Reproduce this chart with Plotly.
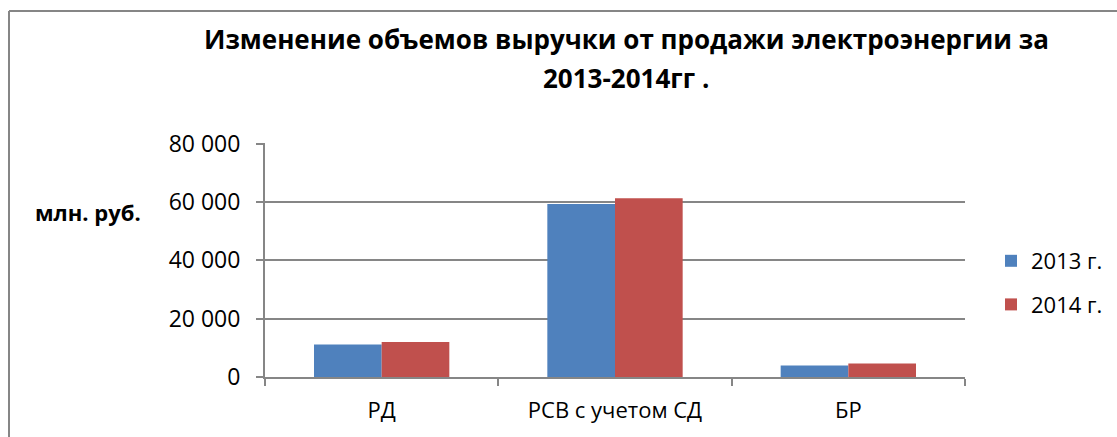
import plotly.graph_objects as go

categories = ["РД", "РСВ с учетом СД", "БР"]
series_names = ["2013 г.", "2014 г."]
values_2013 = [11100, 59300, 3900]
values_2014 = [12000, 61300, 4600]
y_ticks = [0, 20000, 40000, 60000, 80000]
y_tick_labels = ["0", "20 000", "40 000", "60 000", "80 000"]
title_lines = ["Изменение объемов выручки от продажи электроэнергии за", "2013-2014гг ."]
y_title = "млн. руб."

colors = ["#4F81BD", "#C0504D"]
FONT = "Open Sans"

fig = go.Figure()
for name, vals, col in zip(series_names, [values_2013, values_2014], colors):
    fig.add_trace(go.Bar(
        x=categories, y=vals, name=name, legendgroup=name,
        marker=dict(color=col, line=dict(width=0)),
    ))

L, R, T, B = 265, 1117 - 965, 143, 437 - 377
W, H = 1117, 437
pw, ph = W - L - R, H - T - B

def px_x(p):
    return (p - L) / pw

def px_y(p):
    return (H - B - p) / ph

annotations = []
for line, yc in zip(title_lines, [39, 78]):
    annotations.append(dict(
        text="<b>" + line + "</b>", xref="paper", yref="paper",
        x=px_x(626), y=px_y(yc), xanchor="center", yanchor="middle",
        showarrow=False, font=dict(family=FONT, size=26, color="black"),
    ))
annotations.append(dict(
    text="<b>" + y_title + "</b>", xref="paper", yref="paper",
    x=px_x(88), y=px_y(212), xanchor="center", yanchor="middle",
    showarrow=False, font=dict(family=FONT, size=22, color="black"),
))

fig.update_layout(
    width=W, height=H,
    margin=dict(l=L, r=R, t=T, b=B, pad=0, autoexpand=False),
    paper_bgcolor="white", plot_bgcolor="white",
    barmode="group", bargap=0.42, bargroupgap=0,
    font=dict(family=FONT, size=23, color="black"),
    showlegend=True,
    legend=dict(
        x=px_x(991), y=px_y(240), xanchor="left", yanchor="top",
        font=dict(family=FONT, size=22), tracegroupgap=12,
        bgcolor="rgba(0,0,0,0)", itemwidth=30,
    ),
    xaxis=dict(
        type="category", tickson="boundaries", ticks="outside", ticklen=7,
        tickcolor="#868686", tickwidth=2,
        showline=True, linecolor="#868686", linewidth=2,
        showgrid=False, tickfont=dict(size=22), ticklabelstandoff=13,
    ),
    yaxis=dict(
        range=[0, 80200], tickvals=y_ticks, ticktext=y_tick_labels,
        ticks="outside", ticklen=7, tickcolor="#868686", tickwidth=2,
        showline=True, linecolor="#868686", linewidth=2,
        showgrid=True, gridcolor="#868686", gridwidth=2,
        zeroline=False, ticklabelstandoff=11,
        tickfont=dict(size=23),
    ),
    annotations=annotations,
    shapes=[
        dict(type="line", xref="paper", yref="paper",
             x0=px_x(9), x1=px_x(1117), y0=px_y(11), y1=px_y(11),
             line=dict(color="#868686", width=2)),
        dict(type="line", xref="paper", yref="paper",
             x0=px_x(9), x1=px_x(9), y0=px_y(11), y1=px_y(437),
             line=dict(color="#868686", width=2)),
    ],
)

fig.write_html(
    "out.html",
    config={"displayModeBar": False},
    post_script="document.body.style.margin='0';document.body.style.overflow='hidden';",
)
